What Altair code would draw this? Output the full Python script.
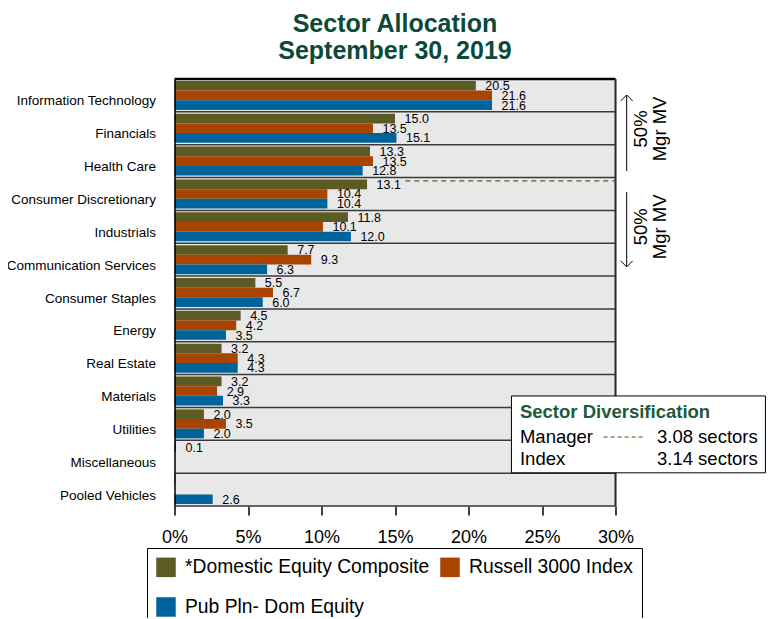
import altair as alt
import pandas as pd

FONT = "Liberation Sans"

categories = ["Information Technology", "Financials", "Health Care",
              "Consumer Discretionary", "Industrials", "Communication Services",
              "Consumer Staples", "Energy", "Real Estate", "Materials",
              "Utilities", "Miscellaneous", "Pooled Vehicles"]
series = ["*Domestic Equity Composite", "Russell 3000 Index", "Pub Pln- Dom Equity"]
composite = [20.5, 15.0, 13.3, 13.1, 11.8, 7.7, 5.5, 4.5, 3.2, 3.2, 2.0, 0.1, 0.06]
russell = [21.6, 13.5, 13.5, 10.4, 10.1, 9.3, 6.7, 4.2, 4.3, 2.9, 3.5, 0.0, 0.0]
pubpln = [21.6, 15.1, 12.8, 10.4, 12.0, 6.3, 6.0, 3.5, 4.3, 3.3, 2.0, 0.0, 2.6]
colors = ["#5c5b23", "#a94400", "#00649c"]
x_ticks = [0, 5, 10, 15, 20, 25, 30]
title_lines = ["Sector Allocation", "September 30, 2019"]
div_title = "Sector Diversification"
div_rows = ["Manager", "Index"]
div_values = ["3.08 sectors", "3.14 sectors"]
mgr_mv = ["50%", "Mgr MV"]

rows = []
for s, vals in zip(series, [composite, russell, pubpln]):
    for c, v in zip(categories, vals):
        rows.append({"cat": c, "series": s, "value": v})
df = pd.DataFrame(rows)
n_cat = len(categories)

x_scale = alt.Scale(domain=[0, 30], nice=False, zero=True)
x_axis = alt.Axis(values=x_ticks, labelExpr="datum.value + '%'", title=None,
                  grid=False, domain=False, tickColor="black", tickSize=9,
                  tickWidth=1.5, labelFontSize=18, labelPadding=13,
                  labelFlush=False, labelColor="black", labelFont=FONT)
y_band = alt.Y("cat:N", sort=categories,
               scale=alt.Scale(paddingInner=0, paddingOuter=0),
               axis=alt.Axis(title=None, labelFontSize=13.5, labelFont=FONT,
                             labelColor="black", labelPadding=19, labelOffset=6,
                             ticks=False, domain=True, domainColor="black",
                             domainWidth=1.5, grid=False, zindex=1, labelLimit=300))
y_off = alt.YOffset("series:N", sort=series, scale=alt.Scale(paddingOuter=0.2, paddingInner=0))

bars = alt.Chart(df).mark_bar().encode(
    x=alt.X("value:Q", scale=x_scale, axis=x_axis),
    y=y_band,
    yOffset=y_off,
    color=alt.Color("series:N", sort=series,
                    scale=alt.Scale(domain=series, range=colors),
                    legend=alt.Legend(title=None, orient="none", legendX=-27.5,
                                      legendY=469, direction="horizontal",
                                      columns=2, symbolType="square",
                                      symbolSize=380, symbolStrokeWidth=0,
                                      labelFontSize=19.3, labelFont=FONT,
                                      labelColor="black", labelOffset=9,
                                      columnPadding=10, rowPadding=19,
                                      padding=9, strokeColor="black",
                                      fillColor="white",
                                      labelLimit=400)),
)

labels = alt.Chart(df).transform_filter("datum.value >= 0.095").mark_text(
    align="left", baseline="middle", dx=9.5, dy=0.5, fontSize=12.5, font=FONT,
    color="black").encode(
    x=alt.X("value:Q", scale=x_scale),
    y=alt.Y("cat:N", sort=categories),
    yOffset=y_off,
    text=alt.Text("value:Q", format=".1f"),
)

band_layer = alt.layer(bars, labels)

yq_scale = alt.Scale(domain=[0, n_cat], reverse=True, nice=False, zero=False)

def qy(field="y"):
    return alt.Y(f"{field}:Q", scale=yq_scale, axis=None)

def qx(field="x"):
    return alt.X(f"{field}:Q", scale=x_scale)

# plot background, row separators and borders
bg = alt.Chart(pd.DataFrame([{"x": 0, "x2": 30, "y": 0, "y2": n_cat}])).mark_rect(
    fill="#e8e8e8", stroke=None).encode(x=qx(), x2="x2:Q", y=qy(), y2="y2:Q")
seps = alt.Chart(pd.DataFrame({"y": list(range(1, n_cat + 1))})).mark_rule(
    color="#3a3a3a", strokeWidth=1.5).encode(
    x=alt.value(0), x2=alt.value(441), y=qy())
top_border = alt.Chart(pd.DataFrame([{"y": 0}])).mark_rule(
    color="black", strokeWidth=2.5).encode(x=alt.value(0), x2=alt.value(441), y=qy())
right_border = alt.Chart(pd.DataFrame([{"x": 30, "y": 0, "y2": n_cat}])).mark_rule(
    color="#2a2a2a", strokeWidth=2).encode(x=qx(), y=qy(), y2="y2:Q")
bg_layer = alt.layer(bg, seps, top_border, right_border)

# dashed manager 50% line in plot
mgr_line = alt.Chart(pd.DataFrame([{"x": 15.7, "x2": 30, "y": 3.10}])).mark_rule(
    color=colors[0], strokeDash=[5, 4], strokeWidth=1.3).encode(
    x=qx(), x2="x2:Q", y=qy())

# arrows
arrows_df = pd.DataFrame([{"x": 30.76, "y": 0.487, "y2": 2.80},
                          {"x": 30.76, "y": 3.44, "y2": 5.72}])
arrow_lines = alt.Chart(arrows_df).mark_rule(color="black", strokeWidth=1).encode(
    x=qx(), y=qy(), y2="y2:Q")
head_up = alt.Chart(pd.DataFrame([{"x": 30.76, "y": 0.487}])).mark_point(
    shape="M-1,1L0,0L1,1", size=144, filled=False, stroke="black",
    strokeWidth=1, opacity=1).encode(x=qx(), y=qy())
head_down = alt.Chart(pd.DataFrame([{"x": 30.76, "y": 5.72}])).mark_point(
    shape="M-1,-1L0,0L1,-1", size=144, filled=False, stroke="black",
    strokeWidth=1, opacity=1).encode(x=qx(), y=qy())
mv_text = alt.Chart(pd.DataFrame([{"x": 31.74, "y": 1.52}, {"x": 31.74, "y": 4.5}])).mark_text(
    text=mgr_mv, angle=270, fontSize=18.5, lineHeight=19, font=FONT,
    align="center", baseline="middle", color="black").encode(x=qx(), y=qy())

# sector diversification box
box = alt.Chart(pd.DataFrame([{"x": 22.92, "x2": 40.2, "y": 9.65, "y2": 11.99}])).mark_rect(
    fill="white", stroke="black", strokeWidth=1).encode(
    x=qx(), x2="x2:Q", y=qy(), y2="y2:Q")
box_title = alt.Chart(pd.DataFrame([{"x": 23.5, "y": 10.14, "t": div_title}])).mark_text(
    align="left", baseline="middle", fontSize=18.5, fontWeight="bold",
    font=FONT, color="#1d5a3c").encode(x=qx(), y=qy(), text="t:N")
box_rows = alt.Chart(pd.DataFrame([{"x": 23.5, "y": 10.90, "t": div_rows[0]},
                                   {"x": 23.5, "y": 11.57, "t": div_rows[1]},
                                   {"x": 32.82, "y": 10.90, "t": div_values[0]},
                                   {"x": 32.82, "y": 11.57, "t": div_values[1]}])).mark_text(
    align="left", baseline="middle", fontSize=18.5, font=FONT,
    color="black").encode(x=qx(), y=qy(), text="t:N")
box_dash = alt.Chart(pd.DataFrame([{"x": 29.19, "x2": 32.05, "y": 10.90}])).mark_rule(
    color="#8a8a5a", strokeDash=[4, 3], strokeWidth=1.3).encode(
    x=qx(), x2="x2:Q", y=qy())

annot_layer = alt.layer(mgr_line, arrow_lines, head_up, head_down, mv_text,
                        box, box_title, box_rows, box_dash)

chart = alt.layer(bg_layer, band_layer, annot_layer).resolve_scale(y="independent").properties(
    width=441, height=427,
    title=alt.Title(title_lines, fontSize=25, lineHeight=27, font=FONT,
                    fontWeight="bold", color="#0b4a38", anchor="middle", offset=14),
    autosize=alt.AutoSizeParams(type="none"),
    padding={"left": 166.5, "top": 71, "right": 151, "bottom": 112},
    background="white",
).configure_view(stroke=None).configure_legend(
    strokeWidth=1.5).configure(font=FONT)

chart.save("out.html", embed_options={"renderer": "svg", "actions": False})
